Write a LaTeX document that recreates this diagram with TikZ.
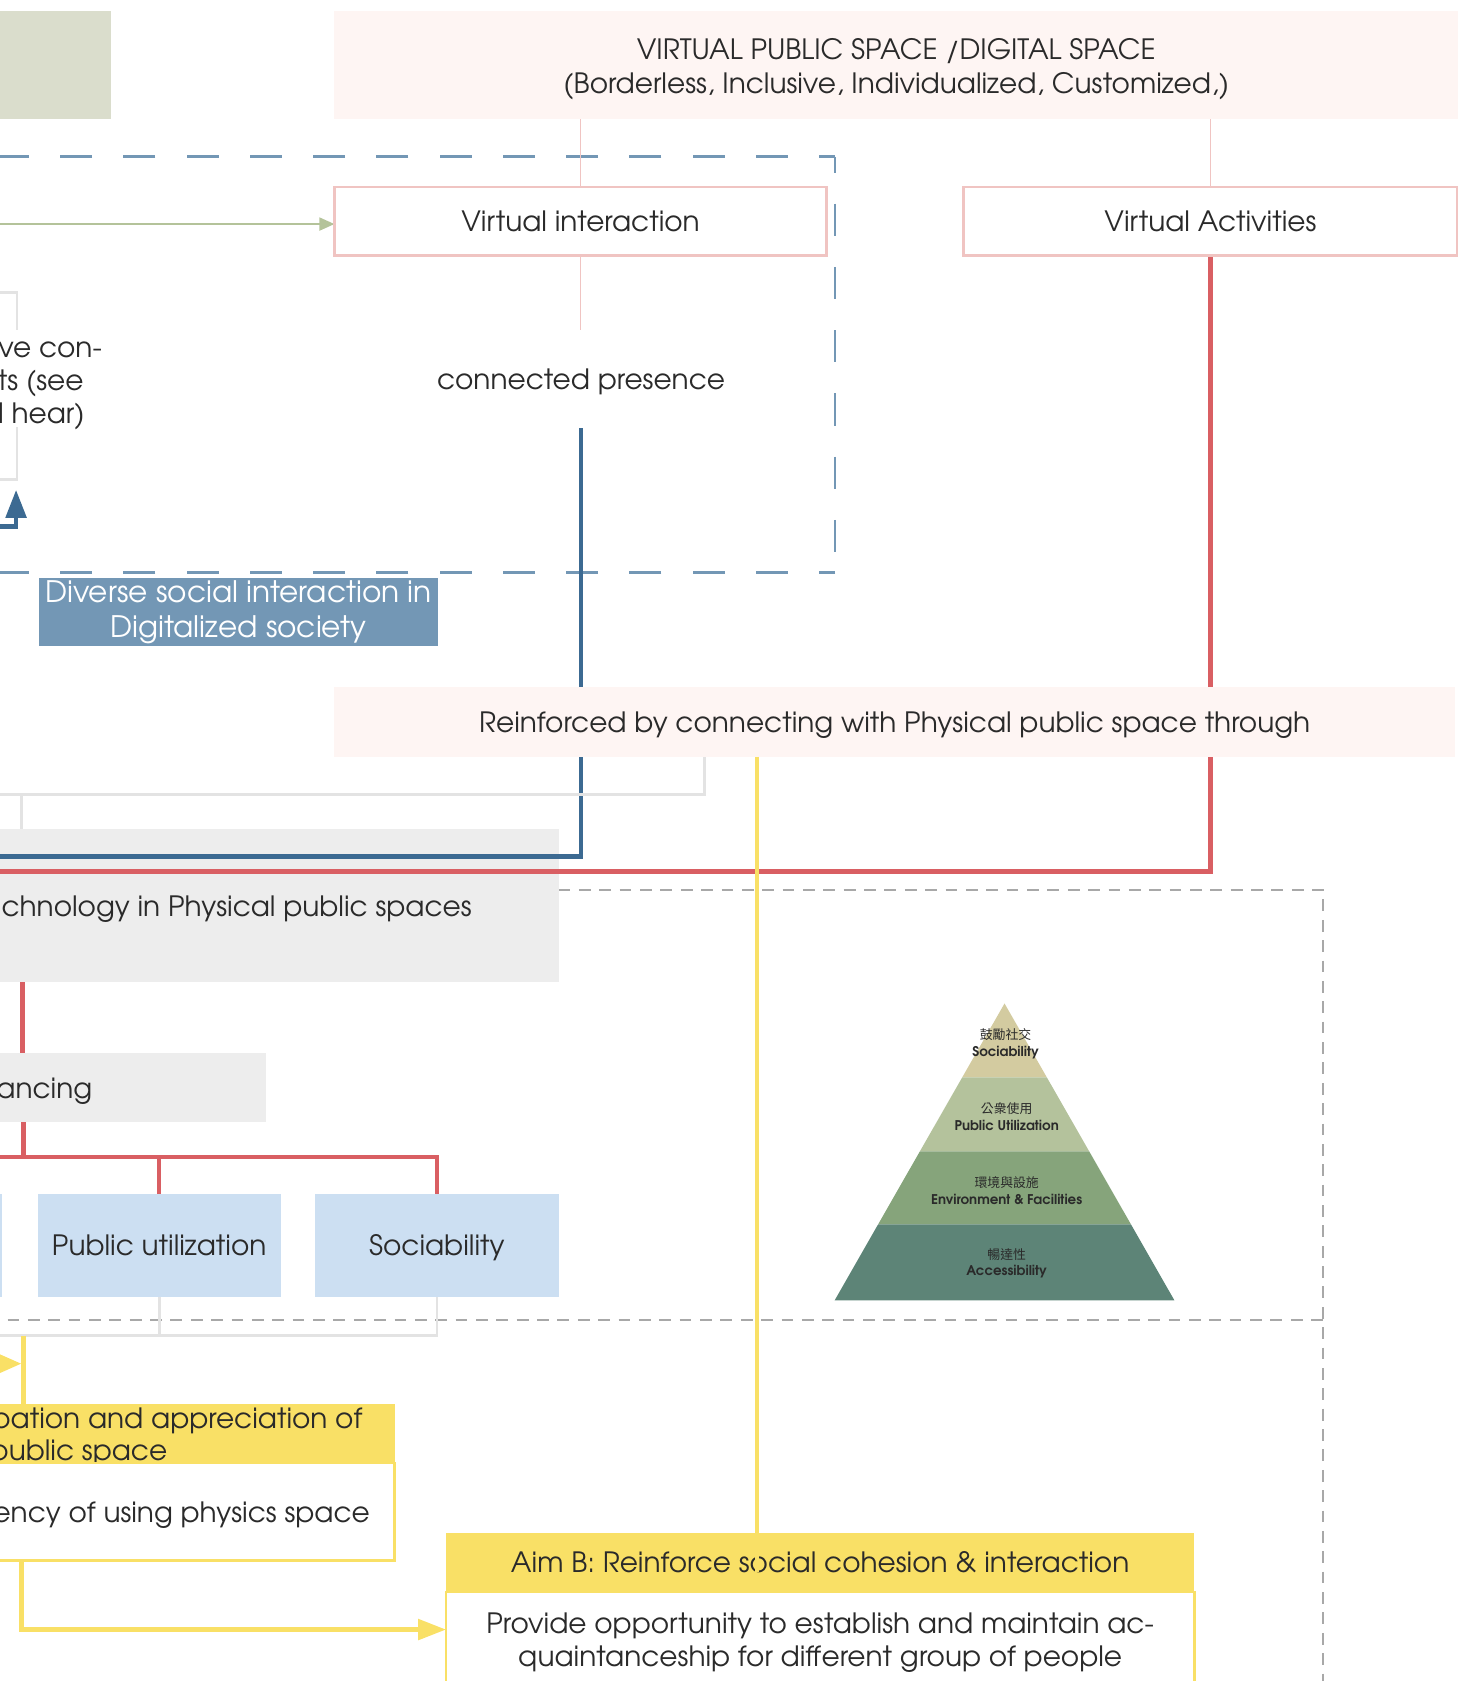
\documentclass[tikz,border=0pt]{standalone}
\usepackage{fontspec}
\setmainfont{texgyreadventor}[Extension=.otf,UprightFont=*-regular,BoldFont=*-bold]
\newfontfamily\cjk{Noto Sans CJK TC}
\usetikzlibrary{arrows.meta}

\definecolor{ink}{HTML}{2A2A2A}
\definecolor{sage}{HTML}{DADDCC}
\definecolor{blush}{HTML}{FEF5F3}
\definecolor{rose}{HTML}{F0C4C2}
\definecolor{steel}{HTML}{7397B5}
\definecolor{navy}{HTML}{3C6A92}
\definecolor{coral}{HTML}{D95F63}
\definecolor{mist}{HTML}{E3E3E3}
\definecolor{cloud}{HTML}{EDEDED}
\definecolor{ash}{HTML}{A8A8A8}
\definecolor{sky}{HTML}{CCDFF2}
\definecolor{butter}{HTML}{F9E066}
\definecolor{olive}{HTML}{B4C39A}
\definecolor{pyrA}{HTML}{D3CBA0}
\definecolor{pyrB}{HTML}{B4C29C}
\definecolor{pyrC}{HTML}{86A47B}
\definecolor{pyrD}{HTML}{5D8477}

\pgfdeclarelayer{back}
\pgfdeclarelayer{wires}
\pgfsetlayers{back,wires,main}

\begin{document}
\begin{tikzpicture}[x=1pt,y=-1pt,
  every node/.style={inner sep=0pt, outer sep=0pt, text=ink,
    font=\fontsize{26.1}{31}\selectfont},
  panel/.style n args={2}{rectangle, minimum width=#1, minimum height=#2},
  oneline/.style={text height=19pt, text depth=0pt},
  framed/.style={draw=#1, line width=2.5pt, fill=white},
  thinlink/.style={rose, line width=1pt},
  navywire/.style={navy, line width=4.5pt},
  coralwire/.style={coral, line width=4.5pt},
  mistwire/.style={mist, line width=2.5pt},
  butterwire/.style={butter, line width=4pt},
  bluedash/.style={steel, line width=2.5pt, dash pattern=on 30pt off 29pt, dash phase=15pt},
  greydash/.style={ash, line width=1.5pt, dash pattern=on 11pt off 8pt},
  tier/.style={align=center, font=\fontsize{12.5}{15.5}\selectfont\bfseries}
]
\useasboundingbox (0,0) rectangle (1366,1568);
\clip (0,0) rectangle (1366,1568);

% helper points for wire routing
\coordinate (leftout) at (-50,0);
\coordinate (greenfrom) at (-50,209);
\coordinate (sensein) at (15,457);
\coordinate (navyfrom) at (-50,491);
\coordinate (grayknee) at (657,741);
\coordinate (graydrop) at (20,741);
\coordinate (redx) at (21,0);
\coordinate (fork) at (22,1079);
\coordinate (graybus) at (0,1246);
\coordinate (ytap) at (22,1246);
\coordinate (yarrow) at (20,1272);
\coordinate (ybend) at (20,1520);
\coordinate (aimcut) at (706,1466);

% ---------- back layer: frames and grey panels ----------
\begin{pgfonlayer}{back}
  \draw[bluedash] (779,146) -- (-40,146);
  \draw[bluedash] (779,146) -- (779,534);
  \draw[bluedash] (779,534) -- (-40,534);
  \draw[greydash] (521,830) -- (1234,830) -- (1234,1600);
  \draw[greydash] (-50,1231) -- (1234,1231);
  \node[panel={216}{174}, draw=mist, line width=2.5pt, fill=white] (sensebox) at (-92,360) {};
  \node[panel={621}{143}, fill=cloud] (tech) at (210.5,844.5) {};
  \node[panel={348}{65}, fill=cloud] (enh) at (74,1014.5) {};
\end{pgfonlayer}

% ---------- upper part: virtual space ----------
\node[panel={164}{101}, fill=sage] (sagebox) at (22,60.5) {};
\node[panel={1048}{101}, fill=blush] (vps) at (836,60.5) {};
\node[align=center, font=\fontsize{26.1}{32}\selectfont] (vpstxt) at (836,64.5)
  {VIRTUAL PUBLIC SPACE /DIGITAL SPACE\\(Borderless, Inclusive, Individualized, Customized,)};
\node[panel={459}{64}, framed=rose, oneline] (vint) at (541.5,206.5) {Virtual interaction};
\node[panel={460}{64}, framed=rose, oneline] (vact) at (1129,206.5) {Virtual Activities};
\node[panel={300}{91}, fill=white, oneline] (cpres) at (542,353.5) {connected presence};

\node[panel={110}{90}, fill=white] (sensemask) at (45,353) {};
\node[anchor=base east] (senseA) at (95,333) {ve con-};
\node[anchor=base east] (senseB) at (78,364) {ts (see};
\node[anchor=base east] (senseC) at (79,395) {d hear)};

\node[panel={373}{64}, fill=steel, text=white, align=center,
      font=\fontsize{27.6}{32}\selectfont] (diverse) at (222.5,571)
  {Diverse social interaction in\\Digitalized society};

\node[panel={1045}{65}, fill=blush, oneline] (reinf) at (834.5,673.5)
  {Reinforced by connecting with Physical public space through};

% ---------- physical space ----------
\node[anchor=base east] (techtxt) at (440,855) {chnology in Physical public spaces};
\node[anchor=base east] (enhtxt) at (86,1025) {ancing};

\node[panel={102}{96}, fill=sky] (envbox) at (-49,1162) {};
\node[panel={227}{96}, fill=sky, oneline] (pubutil) at (148.5,1162) {Public utilization};
\node[panel={227}{96}, fill=sky, oneline] (sociab) at (407.5,1162) {Sociability};

% placemaking pyramid
\fill[pyrA] (937,936) -- (976.5,1005) -- (897.5,1005) -- cycle;
\fill[pyrB] (897.5,1005) -- (976.5,1005) -- (1016,1074) -- (858,1074) -- cycle;
\fill[pyrC] (858,1074) -- (1016,1074) -- (1054.9,1142) -- (819.1,1142) -- cycle;
\fill[pyrD] (819.1,1142) -- (1054.9,1142) -- (1095.5,1213) -- (778.5,1213) -- cycle;
\node[tier] (tierA) at (938,973.5) {{\cjk\mdseries\fontsize{12}{15}\selectfont 鼓勵社交}\\Sociability};
\node[tier] (tierB) at (939,1041.5) {{\cjk\mdseries\fontsize{12}{15}\selectfont 公衆使用}\\Public Utilization};
\node[tier] (tierC) at (939,1110.5) {{\cjk\mdseries\fontsize{12}{15}\selectfont 環境與設施}\\Environment \& Facilities};
\node[tier] (tierD) at (939,1178.5) {{\cjk\mdseries\fontsize{12}{15}\selectfont 暢達性}\\Accessibility};

% ---------- aims ----------
\node[panel={468}{55}, fill=butter] (parthead) at (134,1337.5) {};
\node[anchor=base east] (partA) at (338,1332) {pation and appreciation of};
\node[anchor=base east] (partB) at (156,1362) {public space};
\node[panel={468}{91}, framed=butter] (partbody) at (134,1410) {};
\node[anchor=base east] (partC) at (345,1420) {ency of using physics space};

\node[panel={698}{55}, fill=butter, oneline] (aimhead) at (765,1457.5)
  {Aim B: Reinforce social cohesion \& interaction};
\node[panel={698}{120}, framed=butter] (aimbody) at (765,1545) {};
\node[align=center] (aimtxt) at (765,1532.5)
  {Provide opportunity to establish and maintain ac-\\quaintanceship for different group of people};

% ---------- connectors ----------
\begin{pgfonlayer}{wires}
  \draw[thinlink] (vint.north |- vps.south) -- (vint.north);
  \draw[thinlink] (vact.north |- vps.south) -- (vact.north);
  \draw[thinlink] (vint.south) -- (vint.south |- cpres.north);
  \draw[olive, line width=2pt, -{Triangle[length=14pt,width=12pt]}]
    (greenfrom) -- (greenfrom -| vint.west);
  \draw[navywire] (cpres.south) |- (leftout |- 0,799);
  \draw[navy, line width=4pt, -{Triangle[length=26pt,width=19pt]}]
    (navyfrom) -| (sensein);
  \draw[coralwire] (vact.south) |- (leftout |- 0,813);
  \draw[mistwire] (reinf.south -| grayknee) -- (grayknee) -- (grayknee -| leftout);
  \draw[mistwire] (graydrop) -- (graydrop |- tech.north);
  \draw[coral, line width=4pt] (tech.south -| redx) -- (enh.north -| redx);
  \draw[coral, line width=4pt] (enh.south -| fork) -- (fork);
  \draw[coral, line width=4pt] (fork -| leftout) -- (fork -| sociab.north) -- (sociab.north);
  \draw[coral, line width=4pt] (fork -| pubutil.north) -- (pubutil.north);
  \draw[mistwire] (pubutil.south) -- (pubutil.south |- graybus);
  \draw[mistwire] (sociab.south) |- (leftout |- graybus);
  \draw[butterwire] (ytap) -- (ytap |- parthead.north);
  \draw[butterwire, -{Triangle[length=22pt,width=18pt]}] (yarrow -| leftout) -- (yarrow);
  \draw[butterwire, -{Triangle[length=26pt,width=19pt]}]
    (partbody.south -| ybend) -- (ybend) -- (ybend -| aimbody.west);
\end{pgfonlayer}
\draw[butter, line width=3.5pt] (reinf.south -| aimcut) -- (aimcut);
\end{tikzpicture}
\end{document}
